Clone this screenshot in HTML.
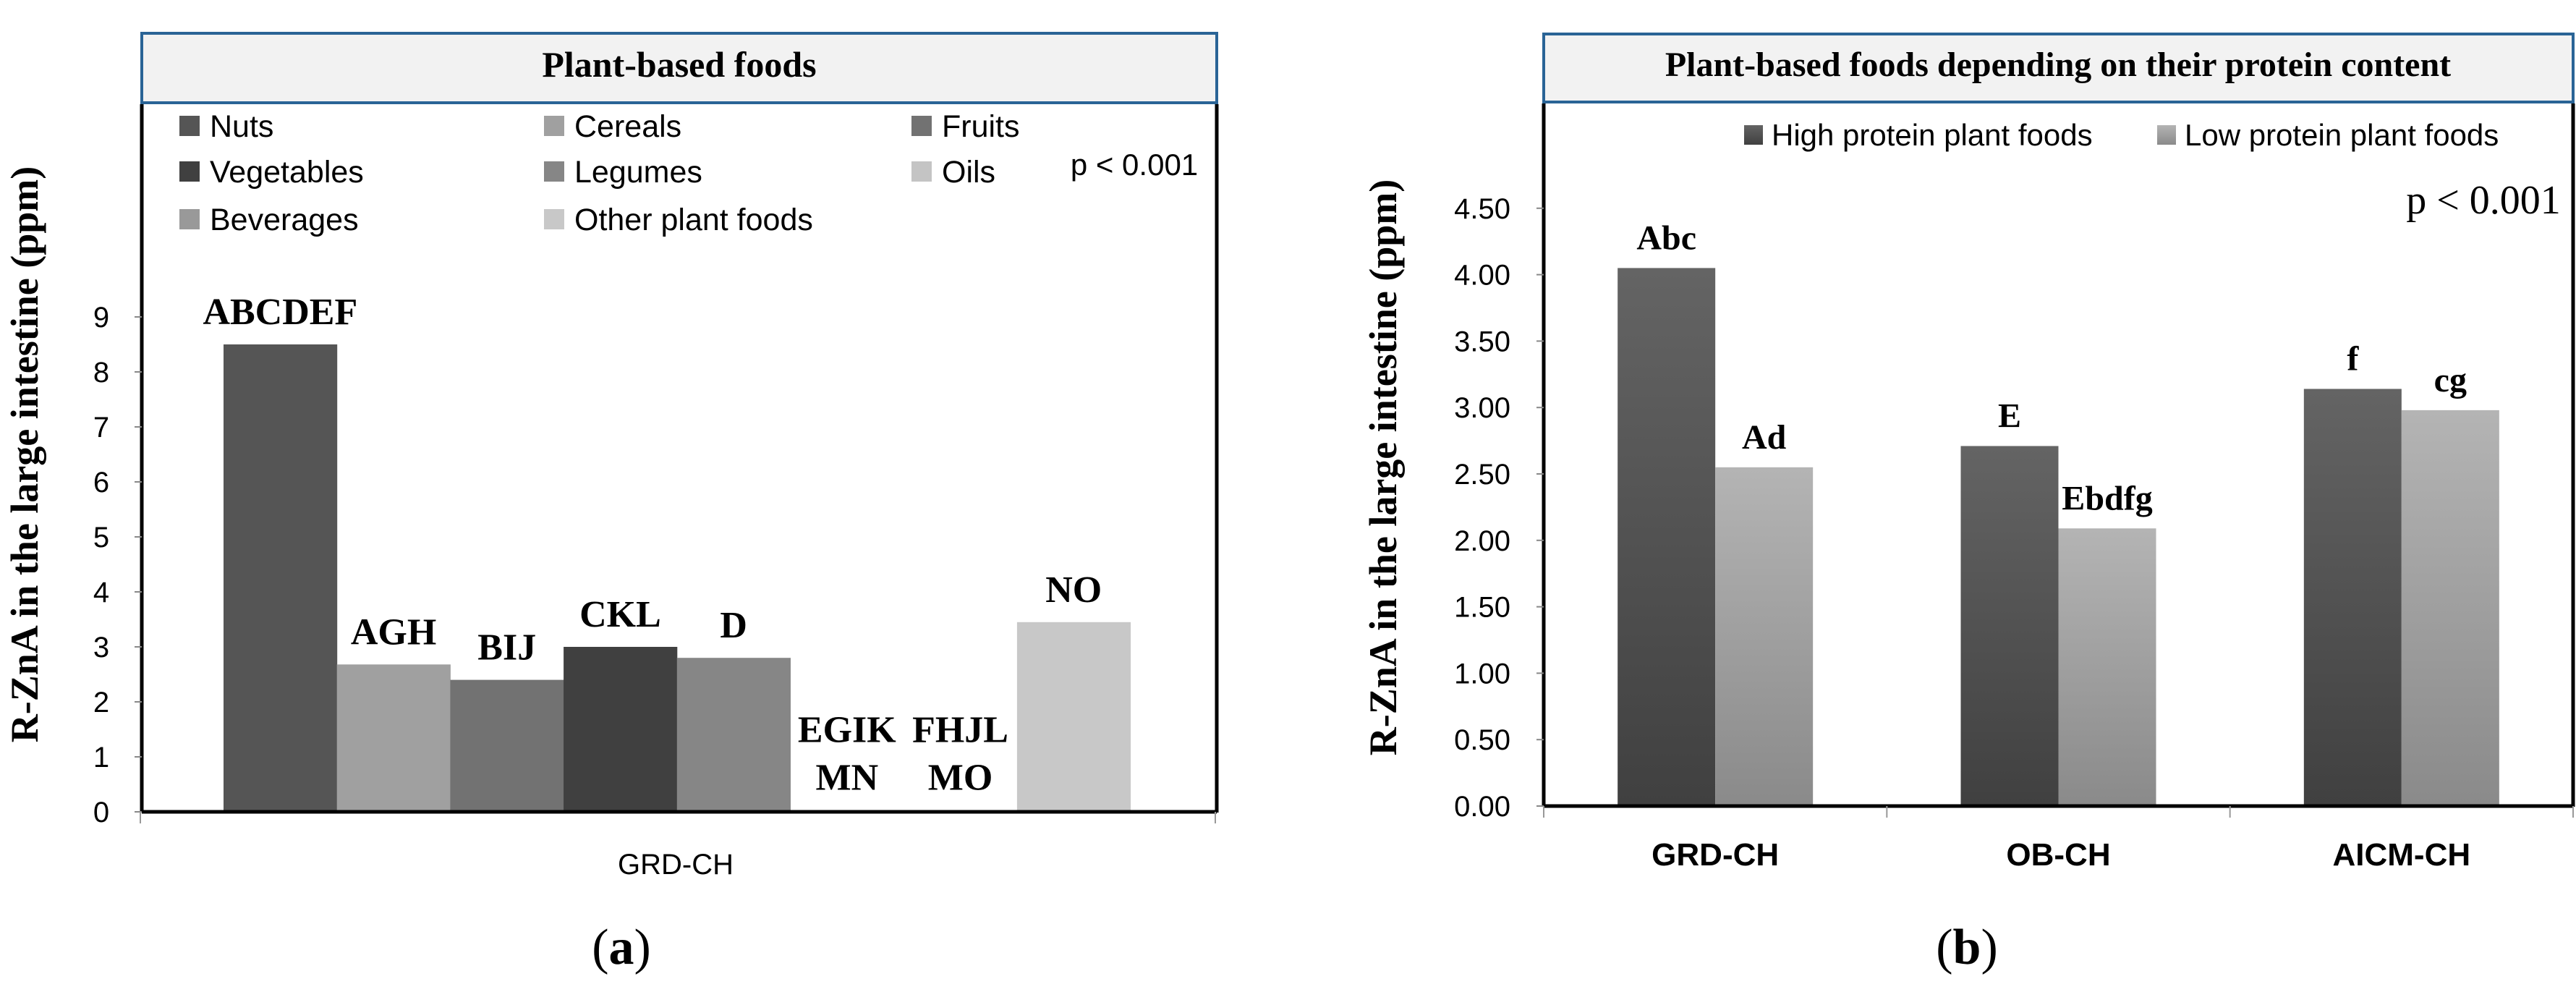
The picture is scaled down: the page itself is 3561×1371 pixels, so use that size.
<!DOCTYPE html>
<html><head><meta charset="utf-8"><style>
html,body{margin:0;padding:0;background:#fff;}
svg{display:block;}
.serif{font-family:"Liberation Serif",serif;}
.sans{font-family:"Liberation Sans",sans-serif;}
</style></head><body>
<svg id="chart" width="3561" height="1371" viewBox="0 0 3561 1371" xmlns="http://www.w3.org/2000/svg">
<defs>
<linearGradient id="gHigh" x1="0" y1="0" x2="0" y2="1"><stop offset="0" stop-color="#646464"/><stop offset="1" stop-color="#404040"/></linearGradient>
<linearGradient id="gLow" x1="0" y1="0" x2="0" y2="1"><stop offset="0" stop-color="#b4b4b4"/><stop offset="1" stop-color="#8a8a8a"/></linearGradient>
</defs>
<g id="panelA">
  <rect x="196" y="46" width="1486" height="96" fill="#f2f2f2" stroke="#2a6496" stroke-width="4"/>
  <text x="939" y="106" text-anchor="middle" class="serif" font-weight="bold" font-size="50">Plant-based foods</text>
  <line x1="196" y1="144" x2="196" y2="1123" stroke="#000" stroke-width="5"/>
  <line x1="1682" y1="144" x2="1682" y2="1123" stroke="#000" stroke-width="5"/>
  <text x="52" y="628" transform="rotate(-90 52 628)" text-anchor="middle" class="serif" font-weight="bold" font-size="54">R-ZnA in the large intestine (ppm)</text>
  <text x="1568" y="242" text-anchor="middle" class="sans" font-size="42">p &lt; 0.001</text>
  <text x="934" y="1208" text-anchor="middle" class="sans" font-size="40">GRD-CH</text>
  <text x="859" y="1332" text-anchor="middle" class="serif" font-size="70">(<tspan font-weight="bold">a</tspan>)</text>
</g>
<g id="panelB">
  <rect x="2134" y="47" width="1423" height="94" fill="#f2f2f2" stroke="#2a6496" stroke-width="4"/>
  <text x="2845" y="105" text-anchor="middle" class="serif" font-weight="bold" font-size="48">Plant-based foods depending on their protein content</text>
  <line x1="2134" y1="143" x2="2134" y2="1115" stroke="#000" stroke-width="5"/>
  <line x1="3557" y1="143" x2="3557" y2="1115" stroke="#000" stroke-width="5"/>
  <text x="1930" y="646" transform="rotate(-90 1930 646)" text-anchor="middle" class="serif" font-weight="bold" font-size="54">R-ZnA in the large intestine (ppm)</text>
  <text x="3433" y="295" text-anchor="middle" class="serif" font-size="56">p &lt; 0.001</text>
  <text x="2719" y="1332" text-anchor="middle" class="serif" font-size="70">(<tspan font-weight="bold">b</tspan>)</text>
</g>
</svg>
<script>
// ---- Panel A data ----
const aCategories = ["Nuts","Cereals","Fruits","Vegetables","Legumes","Oils","Beverages","Other plant foods"];
const aValues = [8.5, 2.68, 2.4, 3.0, 2.8, 0.03, 0.03, 3.45];
const aLabels = [["ABCDEF"],["AGH"],["BIJ"],["CKL"],["D"],["EGIK","MN"],["FHJL","MO"],["NO"]];
const aColors = ["#555555","#a0a0a0","#727272","#404040","#868686","#c4c4c4","#999999","#c8c8c8"];
const aTicks = [0,1,2,3,4,5,6,7,8,9];
// ---- Panel B data ----
const bCategories = ["GRD-CH","OB-CH","AICM-CH"];
const bSeries = ["High protein plant foods","Low protein plant foods"];
const bHigh = [4.05, 2.71, 3.14];
const bLow = [2.55, 2.09, 2.98];
const bHighLabels = ["Abc","E","f"];
const bLowLabels = ["Ad","Ebdfg","cg"];
const bTicks = ["0.00","0.50","1.00","1.50","2.00","2.50","3.00","3.50","4.00","4.50"];

const NS="http://www.w3.org/2000/svg";
function mk(tag, attrs, parent, txt){const e=document.createElementNS(NS,tag);for(const k in attrs)e.setAttribute(k,attrs[k]);if(txt!==undefined)e.textContent=txt;parent.appendChild(e);return e;}
const gA=document.getElementById('panelA'), gB=document.getElementById('panelB');

// Panel A axes
const aY0=1122, aPerUnit=76.0;
const ya=v=>aY0-v*aPerUnit;
const aBarW=156.7, aStart=309;
const xa=i=>aStart+i*aBarW;
aTicks.forEach(t=>{
  const l=mk('line',{x1:186,y1:ya(t),x2:196,y2:ya(t),stroke:'#888','stroke-width':2},gA);
  
  
  const tx=mk('text',{x:140,y:ya(t)+14,'text-anchor':'middle','class':'sans','font-size':40},gA,String(t));
  
  
});
aValues.forEach((v,i)=>{
  const r=mk('rect',{x:xa(i),y:ya(v),width:aBarW+0.5,height:v*aPerUnit,fill:aColors[i]},gA);
  
  
  const lines=aLabels[i];
  const cx=xa(i)+aBarW/2;
  lines.forEach((s,k)=>{
    const by=ya(v)-28-(lines.length-1-k)*66;
    const t=mk('text',{x:cx,y:by,'text-anchor':'middle','class':'serif','font-weight':'bold','font-size':52},gA,s);
    
    
  });
});
const axA=mk('line',{x1:196,y1:aY0,x2:1682,y2:aY0,stroke:'#000','stroke-width':5},gA);


[194,1680].forEach(x=>{const l=mk('line',{x1:x,y1:aY0,x2:x,y2:1138,stroke:'#999','stroke-width':2},gA);
  
  });
// Panel A legend
const legCols=[248,752,1260], legRows=[174,237,303];
aCategories.forEach((c,i)=>{
  const col=i%3,row=Math.floor(i/3);
  const x=legCols[col], y=legRows[row];
  const s=mk('rect',{x:x,y:y-14,width:28,height:28,fill:aColors[i]},gA);
  
  
  const t=mk('text',{x:x+42,y:y+15,'class':'sans','font-size':43},gA,c);
  
  
});

// Panel B axes
const bY0=1114, bPerUnit=183.6;
const yb=v=>bY0-v*bPerUnit;
const bLeft=2134, bCatW=(3557-2134)/3, bBarW=135;
bTicks.forEach(t=>{
  const v=parseFloat(t);
  const l=mk('line',{x1:2124,y1:yb(v),x2:2134,y2:yb(v),stroke:'#888','stroke-width':2},gB);
  
  
  const tx=mk('text',{x:2088,y:yb(v)+14,'text-anchor':'end','class':'sans','font-size':40},gB,t);
  
  
});
bCategories.forEach((c,i)=>{
  const cx=bLeft+bCatW*(i+0.5);
  const r1=mk('rect',{x:cx-bBarW,y:yb(bHigh[i]),width:bBarW,height:bHigh[i]*bPerUnit,fill:'url(#gHigh)'},gB);
  
  
  const r2=mk('rect',{x:cx,y:yb(bLow[i]),width:bBarW,height:bLow[i]*bPerUnit,fill:'url(#gLow)'},gB);
  
  
  const t1=mk('text',{x:cx-bBarW/2,y:yb(bHigh[i])-26,'text-anchor':'middle','class':'serif','font-weight':'bold','font-size':48},gB,bHighLabels[i]);
  
  
  const t2=mk('text',{x:cx+bBarW/2,y:yb(bLow[i])-26,'text-anchor':'middle','class':'serif','font-weight':'bold','font-size':48},gB,bLowLabels[i]);
  
  
  const cl=mk('text',{x:cx,y:1196,'text-anchor':'middle','class':'sans','font-weight':'bold','font-size':44},gB,c);
  
  
});
const axB=mk('line',{x1:2134,y1:bY0,x2:3557,y2:bY0,stroke:'#000','stroke-width':5},gB);


for(let i=0;i<=3;i++){const x=bLeft+bCatW*i;const l=mk('line',{x1:x,y1:bY0,x2:x,y2:1130,stroke:'#999','stroke-width':2},gB);
  
  }
// Panel B legend
const bLegX=[2411,2982], bFills=['url(#gHigh)','url(#gLow)'];
bSeries.forEach((s,i)=>{
  const r=mk('rect',{x:bLegX[i],y:173,width:26,height:27,fill:bFills[i]},gB);
  
  
  const t=mk('text',{x:bLegX[i]+38,y:201,'class':'sans','font-size':42},gB,s);
  
  
});
</script>
</body></html>
